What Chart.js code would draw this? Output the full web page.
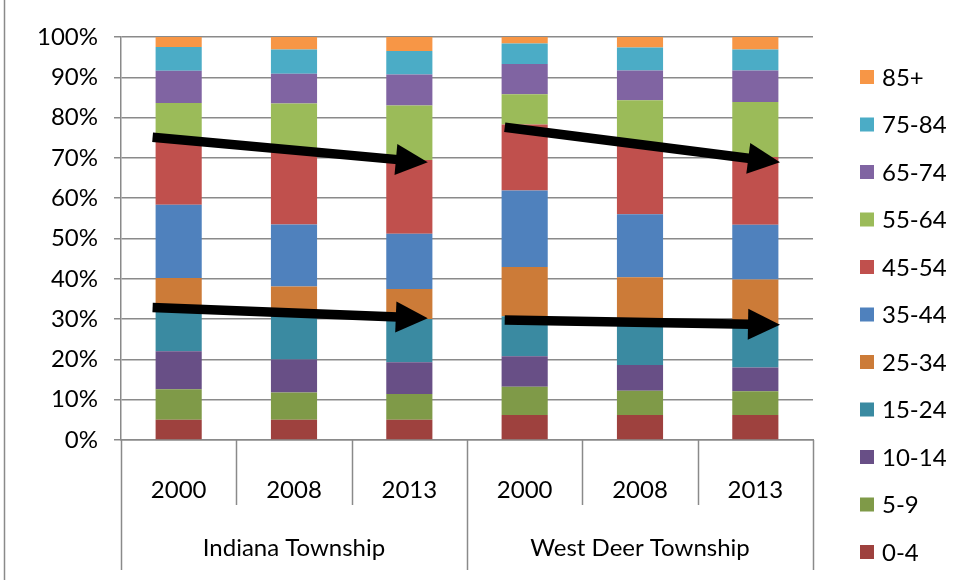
<!DOCTYPE html>
<html>
<head>
<meta charset="utf-8">
<script src="https://cdn.jsdelivr.net/npm/chart.js@4.4.1/dist/chart.umd.min.js"></script>
<style>
  html, body { margin: 0; padding: 0; background: #fff; }
  #wrap { width: 956px; height: 580px; position: relative; }
</style>
</head>
<body>
<div id="wrap"><canvas id="ageChart"></canvas></div>
<script>
// 연령대별 인구 비율(%) — 막대 순서: Indiana 2000/2008/2013, West Deer 2000/2008/2013
const years = ['2000', '2008', '2013', '2000', '2008', '2013'];
const townships = ['Indiana Township', 'West Deer Township'];
const ageGroups = ['0-4', '5-9', '10-14', '15-24', '25-34', '35-44', '45-54', '55-64', '65-74', '75-84', '85+'];

const age0to4 = [5.0, 5.0, 5.0, 6.2, 6.2, 6.2];
const age5to9 = [7.6, 6.8, 6.4, 7.0, 6.0, 5.9];
const age10to14 = [9.4, 8.2, 7.9, 7.6, 6.4, 5.9];
const age15to24 = [10.7, 11.6, 10.7, 9.9, 10.7, 10.8];
const age25to34 = [7.5, 6.5, 7.5, 12.2, 11.1, 11.0];
const age35to44 = [18.2, 15.4, 13.7, 19.0, 15.6, 13.6];
const age45to54 = [16.2, 18.6, 18.3, 16.4, 17.6, 16.8];
const age55to64 = [9.0, 11.4, 13.5, 7.5, 10.7, 13.7];
const age65to74 = [8.0, 7.4, 7.7, 7.5, 7.4, 7.8];
const age75to84 = [5.9, 6.0, 5.8, 5.1, 5.7, 5.2];
const age85plus = [2.5, 3.1, 3.5, 1.6, 2.6, 3.1];

const seriesValues = [age0to4, age5to9, age10to14, age15to24, age25to34, age35to44,
  age45to54, age55to64, age65to74, age75to84, age85plus];

const ageColors = ['#9e413e', '#7f9a48', '#684f86', '#3a8aa1', '#cc7b38', '#4f81bd',
  '#c0504d', '#9bbb59', '#8064a2', '#4bacc6', '#f79646'];

const yTicks = [0, 10, 20, 30, 40, 50, 60, 70, 80, 90, 100];

// 추세 화살표: [시작 막대 위치, 시작 %, 끝 막대 위치, 끝 %]
const trendArrows = [
  [-0.226, 75.1, 2.16, 68.9],
  [-0.226, 32.9, 2.16, 30.2],
  [2.827, 77.6, 5.214, 68.9],
  [2.827, 29.8, 5.214, 28.6],
];

const FONT = { family: 'Lato, "Open Sans", sans-serif', size: 24 };
const GRID = '#8a8a8a';

const arrowPlugin = {
  id: 'trendArrows',
  afterDatasetsDraw(chart) {
    const { ctx, scales: { x, y } } = chart;
    ctx.save();
    ctx.fillStyle = '#000';
    ctx.strokeStyle = '#000';
    for (const [i0, v0, i1, v1] of trendArrows) {
      const x0 = x.getPixelForValue(i0), y0 = y.getPixelForValue(v0);
      const x1 = x.getPixelForValue(i1), y1 = y.getPixelForValue(v1);
      const len = Math.hypot(x1 - x0, y1 - y0);
      const dx = (x1 - x0) / len, dy = (y1 - y0) / len;
      const headLen = 32, headW = 31;
      const bx = x1 - dx * headLen, by = y1 - dy * headLen;
      ctx.lineWidth = 9.5;
      ctx.lineCap = 'butt';
      ctx.beginPath();
      ctx.moveTo(x0, y0);
      ctx.lineTo(bx + dx * 2, by + dy * 2);
      ctx.stroke();
      ctx.beginPath();
      ctx.moveTo(x1, y1);
      ctx.lineTo(bx - dy * headW / 2, by + dx * headW / 2);
      ctx.lineTo(bx + dy * headW / 2, by - dx * headW / 2);
      ctx.closePath();
      ctx.fill();
    }
    ctx.restore();
  },
};

// 두 단계 X축: 연도 구분선, 타운십 구분선과 이름
const groupAxisPlugin = {
  id: 'groupAxis',
  afterDraw(chart) {
    const { ctx, scales: { x }, chartArea } = chart;
    const base = chartArea.bottom;
    ctx.save();
    ctx.strokeStyle = GRID;
    ctx.lineWidth = 1.5;
    for (let k = 0; k <= years.length; k++) {
      const px = Math.round(x.getPixelForValue(k - 0.5)) + 0.5;
      const end = k % 3 === 0 ? base + 130 : base + 65;
      ctx.beginPath();
      ctx.moveTo(px, base);
      ctx.lineTo(px, end);
      ctx.stroke();
    }
    // 차트 영역 왼쪽 테두리
    ctx.beginPath();
    ctx.moveTo(4.5, 0);
    ctx.lineTo(4.5, chart.height);
    ctx.stroke();
    ctx.fillStyle = '#000';
    ctx.font = `${FONT.size}px ${FONT.family}`;
    ctx.textAlign = 'center';
    ctx.textBaseline = 'middle';
    townships.forEach((name, g) => {
      const cx = x.getPixelForValue(g * 3 + 1);
      ctx.fillText(name, cx, base + 108);
    });
    ctx.restore();
  },
};

const legendPlugin = {
  id: 'sideLegend',
  afterDraw(chart) {
    const { ctx } = chart;
    ctx.save();
    ctx.font = `${FONT.size}px ${FONT.family}`;
    ctx.textBaseline = 'middle';
    ctx.textAlign = 'left';
    const items = chart.data.datasets.slice().reverse();
    items.forEach((ds, k) => {
      const cy = 77 + k * 47.5;
      ctx.fillStyle = ds.backgroundColor;
      ctx.fillRect(860, cy - 7, 14, 14);
      ctx.fillStyle = '#000';
      ctx.fillText(ds.label, 882, cy + 1);
    });
    ctx.restore();
  },
};

const datasets = ageGroups.map((label, i) => ({
  label,
  data: seriesValues[i],
  backgroundColor: ageColors[i],
  borderWidth: 0,
  barPercentage: 0.4,
  categoryPercentage: 1,
}));

new Chart(document.getElementById('ageChart'), {
  type: 'bar',
  data: { labels: years, datasets },
  plugins: [arrowPlugin, groupAxisPlugin, legendPlugin],
  options: {
    responsive: true,
    maintainAspectRatio: false,
    animation: false,
    layout: { padding: { top: 37, right: 143, left: 0, bottom: 0 } },
    plugins: { legend: { display: false }, tooltip: { enabled: false } },
    scales: {
      x: {
        stacked: true,
        offset: true,
        grid: { display: false },
        border: { color: GRID, width: 1.5 },
        ticks: { font: FONT, color: '#000', padding: 28, maxRotation: 0, autoSkip: false },
        afterFit(scale) { scale.height = 140; },
      },
      y: {
        stacked: true,
        min: 0,
        max: 100,
        afterBuildTicks(scale) { scale.ticks = yTicks.map((v) => ({ value: v })); },
        grid: { color: GRID, lineWidth: 1.5, tickLength: 7 },
        border: { color: GRID, width: 1.5 },
        ticks: { font: FONT, color: '#000', padding: 16, callback: (v) => `${v}%` },
        afterFit(scale) { scale.width = 121; },
      },
    },
  },
});
</script>
</body>
</html>
